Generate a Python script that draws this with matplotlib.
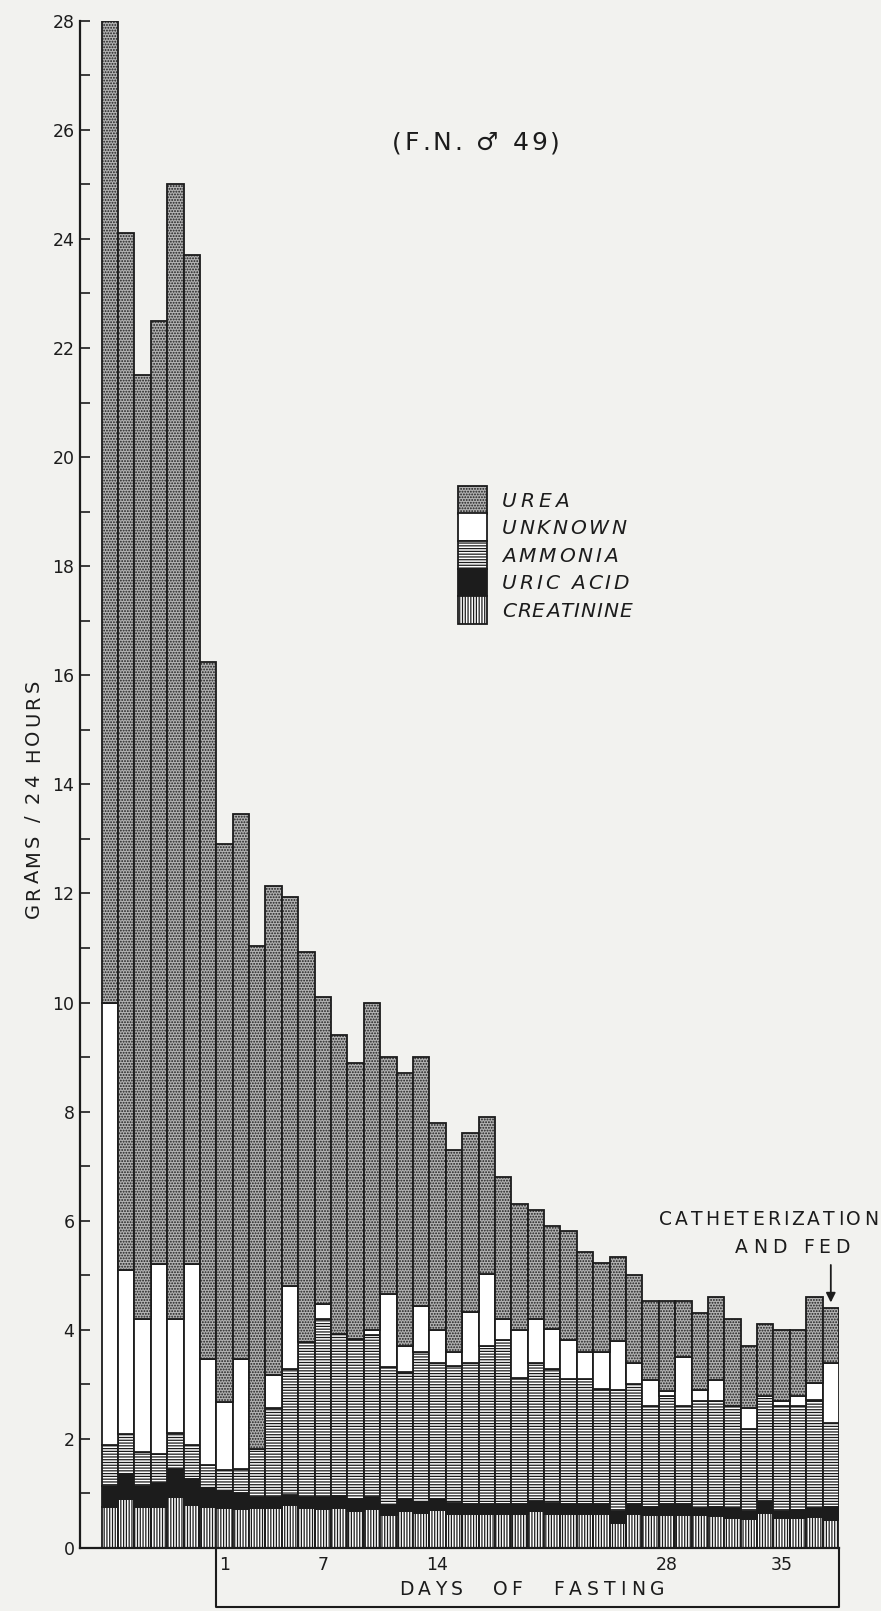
import matplotlib
matplotlib.use("Agg")
import matplotlib.pyplot as plt
import numpy as np
from matplotlib.textpath import TextToPath
from matplotlib.font_manager import FontProperties

# ---------------- data (grams / 24 hours) ----------------
# 7 control days followed by 38 days of fasting
periods = ["C1", "C2", "C3", "C4", "C5", "C6", "C7"] + [str(d) for d in range(1, 39)]

creatinine = [0.75, 0.89, 0.75, 0.75, 0.94, 0.79, 0.75,
              0.73, 0.71, 0.73, 0.73, 0.79, 0.73, 0.71, 0.73, 0.68, 0.72,
              0.60, 0.67, 0.64, 0.70, 0.62, 0.62, 0.62, 0.62, 0.62, 0.67,
              0.62, 0.62, 0.62, 0.62, 0.45, 0.62, 0.60, 0.60, 0.60, 0.60,
              0.58, 0.55, 0.53, 0.64, 0.55, 0.55, 0.56, 0.52]
uric_acid = [0.39, 0.46, 0.39, 0.44, 0.50, 0.48, 0.35,
             0.31, 0.29, 0.21, 0.21, 0.19, 0.21, 0.23, 0.22, 0.21, 0.21,
             0.18, 0.22, 0.20, 0.19, 0.21, 0.19, 0.19, 0.19, 0.19, 0.20,
             0.21, 0.19, 0.18, 0.18, 0.22, 0.18, 0.16, 0.20, 0.20, 0.13,
             0.18, 0.18, 0.15, 0.22, 0.13, 0.15, 0.17, 0.23]
ammonia = [0.75, 0.74, 0.62, 0.53, 0.67, 0.62, 0.43,
           0.39, 0.45, 0.87, 1.62, 2.31, 2.83, 3.25, 2.98, 2.94, 2.98,
           2.53, 2.33, 2.76, 2.51, 2.50, 2.59, 2.89, 3.00, 2.30, 2.53,
           2.46, 2.28, 2.29, 2.11, 2.22, 2.20, 1.84, 1.98, 1.80, 1.96,
           1.93, 1.87, 1.51, 1.92, 1.92, 1.90, 1.98, 1.54]
unknown = [8.11, 3.01, 2.43, 3.49, 2.08, 3.32, 1.94,
           1.25, 2.02, 0.00, 0.62, 1.51, 0.00, 0.29, 0.00, 0.00, 0.08,
           1.34, 0.49, 0.83, 0.59, 0.27, 0.92, 1.32, 0.39, 0.88, 0.80,
           0.72, 0.72, 0.50, 0.69, 0.90, 0.40, 0.48, 0.10, 0.90, 0.20,
           0.39, 0.00, 0.38, 0.00, 0.10, 0.19, 0.32, 1.11]
urea = [18.00, 19.00, 17.31, 17.29, 20.81, 18.49, 12.78,
        10.22, 9.98, 9.23, 8.95, 7.13, 7.16, 5.62, 5.47, 5.06, 6.01,
        4.35, 4.99, 4.57, 3.81, 3.70, 3.28, 2.88, 2.60, 2.31, 2.00,
        1.89, 2.00, 1.83, 1.62, 1.54, 1.61, 1.44, 1.64, 1.02, 1.41,
        1.53, 1.60, 1.13, 1.32, 1.29, 1.20, 1.58, 1.00]

series_names = ["CREATININE", "URIC ACID", "AMMONIA", "UNKNOWN", "UREA"]
day_tick_labels = ["1", "7", "14", "28", "35"]
y_tick_values = list(range(0, 29, 2))

# ---------------- figure ----------------
W, H, DPI = 881, 1611, 100
PAPER = "#f2f2ef"
INK = "#1c1c1c"
plt.rcParams["hatch.linewidth"] = 0.9
plt.rcParams["font.family"] = ["DejaVu Sans"]

fig = plt.figure(figsize=(W / DPI, H / DPI), dpi=DPI, facecolor=PAPER)
ax_left, ax_right, ax_top, ax_bot = 80, 839, 20.7, 1548
ax = fig.add_axes([ax_left / W, 1 - ax_bot / H, (ax_right - ax_left) / W, (ax_bot - ax_top) / H])
ax.set_facecolor("none")

x = np.arange(len(periods))
styles = {
    "CREATININE": dict(facecolor="white", hatch="||||||"),
    "URIC ACID": dict(facecolor=INK, hatch=None),
    "AMMONIA": dict(facecolor="white", hatch="------"),
    "UNKNOWN": dict(facecolor="white", hatch=None),
    "UREA": dict(facecolor="#b2b2b2", hatch="......"),
}
series = [creatinine, uric_acid, ammonia, unknown, urea]
bottom = np.zeros(len(x))
for name, vals in zip(series_names, series):
    vals = np.array(vals)
    ax.bar(x, vals, width=1.0, bottom=bottom, edgecolor=INK, linewidth=1.3,
           **styles[name])
    bottom = bottom + vals

ax.set_xlim(-1.82, 44.5)
ax.set_ylim(0, 28)
for s in ["top", "right"]:
    ax.spines[s].set_visible(False)
for s in ["left", "bottom"]:
    ax.spines[s].set_linewidth(1.6)
    ax.spines[s].set_color(INK)

ax.set_yticks(y_tick_values)
ax.set_yticklabels([str(v) for v in y_tick_values])
ax.set_yticks(list(range(1, 28, 2)), minor=True)
ax.tick_params(axis="y", which="both", direction="in", length=7.5, width=1.2,
               pad=4, labelsize=12.5, colors=INK)

day_positions = [7 + int(d) - 1 for d in day_tick_labels]
ax.set_xticks(day_positions)
ax.set_xticklabels(day_tick_labels)
ax.tick_params(axis="x", length=0, pad=6, labelsize=12.5, colors=INK)

# box under the fasting days
yb = -59 / 54.55
ax.plot([6.5, 6.5, 44.5, 44.5], [0, yb, yb, 0], color=INK, lw=1.5, clip_on=False)

# ---------------- letter-spaced text helper ----------------
ttp = TextToPath()


def tracked(start, end, other, s, fs, style="normal", vertical=False):
    """Spread the letters of s evenly from pixel position start to end.
    Horizontal: start/end are x, other is the baseline y.
    Vertical (reads bottom to top): start/end are y (start below end),
    other is the baseline x."""
    fp = FontProperties(family="DejaVu Sans", size=fs, style=style)
    adv = []
    for c in s:
        if c == " ":
            w = fs * 0.32
        else:
            w = ttp.get_text_width_height_descent(c, fp, ismath=False)[0]
        adv.append(w * DPI / 72)
    length = abs(end - start)
    track = (length - sum(adv)) / max(len(s) - 1, 1)
    pos = 0.0
    for c, w in zip(s, adv):
        mid = pos + w / 2
        if c != " ":
            if not vertical:
                fig.text((start + mid) / W, 1 - other / H, c, fontsize=fs, style=style,
                         ha="center", va="baseline", color=INK)
            else:
                fig.text(other / W, 1 - (start - mid) / H, c, fontsize=fs,
                         style=style, ha="center", va="baseline", rotation=90,
                         rotation_mode="anchor", color=INK)
        pos += w + track


# title
tracked(392, 560, 150, "(F.N. \u2642 49)", 18)
# y label
tracked(918, 680, 39, "GRAMS / 24 HOURS", 14, vertical=True)
# x label
tracked(399, 463, 1595, "DAYS", 13.5)
tracked(493, 522, 1595, "OF", 13.5)
tracked(553, 665, 1595, "FASTING", 13.5)
# annotation
tracked(659, 878, 1225, "CATHETERIZATION", 13.5)
tracked(735, 850, 1253, "AND FED", 13.5)
ax.annotate("", xy=(44, 4.45), xytext=(44, 5.24),
            arrowprops=dict(arrowstyle="-|>", color=INK, lw=1.3, mutation_scale=14))

# ---------------- legend ----------------
lx0, lx1 = 458, 487
ly0, cell = 486, 27.5
text_x = 502
leg_order = ["UREA", "UNKNOWN", "AMMONIA", "URIC ACID", "CREATININE"]
leg_width = [67, 124, 116, 127, 130]
for i, name in enumerate(leg_order):
    y_top = ly0 + i * cell
    rect = plt.Rectangle((lx0 / W, 1 - (y_top + cell) / H), (lx1 - lx0) / W, cell / H,
                         transform=fig.transFigure, edgecolor=INK, linewidth=1.3,
                         **styles[name])
    fig.add_artist(rect)
    tracked(text_x, text_x + leg_width[i], y_top + cell / 2 + 7, name, 14.5, style="italic")

fig.savefig("out.png", dpi=DPI, facecolor=PAPER)
